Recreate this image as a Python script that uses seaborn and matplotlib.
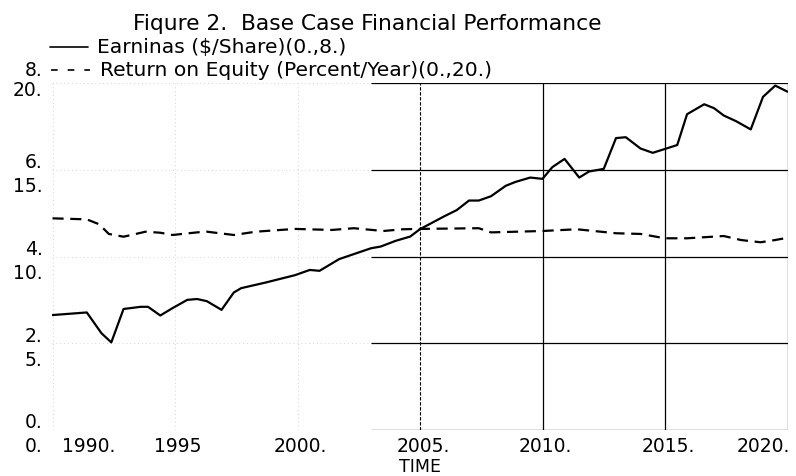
import matplotlib
matplotlib.use("Agg")
import matplotlib.pyplot as plt
import matplotlib.transforms as mtransforms
from matplotlib.lines import Line2D
import seaborn as sns

# ---------------- data ----------------
title = "Fiqure 2.  Base Case Financial Performance"
earn_label = "Earninas ($/Share)(0.,8.)"
roe_label = "Return on Equity (Percent/Year)(0.,20.)"
x_label = "TIME"

earn_time = [1990.0, 1991.4, 1992.0, 1992.4, 1992.9, 1993.6, 1993.9, 1994.4, 1994.9,
             1995.5, 1995.9, 1996.3, 1996.9, 1997.4, 1997.7, 1998.7, 1999.9, 2000.5,
             2000.9, 2001.7, 2003.0, 2003.4, 2004.0, 2004.6, 2005.0, 2006.0, 2006.5,
             2007.0, 2007.4, 2007.9, 2008.5, 2008.9, 2009.5, 2010.0, 2010.4, 2010.9,
             2011.5, 2011.9, 2012.5, 2013.0, 2013.4, 2014.0, 2014.5, 2015.0, 2015.5,
             2015.9, 2016.6, 2017.0, 2017.4, 2017.9, 2018.5, 2019.0, 2019.5, 2020.0]
earn_vals = [2.65, 2.71, 2.23, 2.02, 2.79, 2.84, 2.84, 2.64, 2.81,
             3.00, 3.02, 2.97, 2.77, 3.17, 3.27, 3.40, 3.57, 3.69,
             3.67, 3.94, 4.19, 4.23, 4.36, 4.46, 4.63, 4.93, 5.07,
             5.29, 5.29, 5.39, 5.63, 5.72, 5.82, 5.79, 6.06, 6.25,
             5.82, 5.96, 6.02, 6.73, 6.75, 6.49, 6.39, 6.48, 6.57,
             7.28, 7.51, 7.42, 7.25, 7.12, 6.93, 7.68, 7.94, 7.80]

roe_time = [1990.0, 1991.4, 1991.9, 1992.3, 1992.9, 1993.4, 1993.8, 1994.4, 1994.9,
            1995.9, 1996.3, 1997.4, 1998.3, 1999.9, 2001.4, 2002.3, 2003.5, 2004.3,
            2005.0, 2007.4, 2007.9, 2010.0, 2011.4, 2013.0, 2014.0, 2015.0, 2015.9,
            2017.4, 2018.1, 2018.9, 2019.5, 2020.0]
roe_vals = [12.20, 12.14, 11.86, 11.30, 11.14, 11.30, 11.43, 11.37, 11.24,
            11.39, 11.43, 11.24, 11.43, 11.59, 11.53, 11.63, 11.47, 11.57,
            11.59, 11.63, 11.39, 11.47, 11.57, 11.34, 11.30, 11.05, 11.05,
            11.18, 10.95, 10.82, 10.95, 11.08]

x_ticks = [1990, 1995, 2000, 2005, 2010, 2015, 2020]
x_tick_labels = ["1990.", "1995", "2000.", "2005.", "2010.", "2015.", "2020."]
earn_ticks = [0, 2, 4, 6, 8]
earn_tick_labels = ["0.", "2.", "4.", "6.", "8."]
roe_ticks = [0, 5, 10, 15, 20]
roe_tick_labels = ["0.", "5.", "10.", "15.", "20."]

# ---------------- style ----------------
sns.set_theme(style="white")
plt.rcParams["font.family"] = ["DejaVu Sans"]
FS_TICK = 13.5
FS_TITLE = 15.7
FS_LEG = 14.6
W, H = 796, 476

def fx(px):
    return px / W

def fy(py):
    return 1 - py / H

fig = plt.figure(figsize=(W / 100, H / 100), dpi=100)
fig.patch.set_facecolor("white")
ax = fig.add_axes([fx(52.5), fy(430), 735 / W, 347 / H])
ax2 = ax.twinx()

ax.set_xlim(1990, 2020)
ax.set_ylim(0, 8)
ax2.set_ylim(0, 20)
for a in (ax, ax2):
    a.set_xticks([])
    a.set_yticks([])
    for s in a.spines.values():
        s.set_visible(False)
    a.grid(False)
ax2.patch.set_visible(False)

# faded (left) part of the frame and grid
faint = dict(color="#d4d4d4", lw=0.7, ls=(0, (1, 3)))
for xt in x_ticks[:-1]:
    ax.axvline(xt, **faint)
for yt in earn_ticks:
    ax.axhline(yt, **faint)

# visible (right) part of the frame and grid
solid_start = 2003.0
for yt in earn_ticks:
    ax.hlines(yt, solid_start, 2020, color="black", lw=0.9)
ax.axvline(2005, color="black", lw=0.8, ls=(0, (3, 1.5)))
for xt in (2010, 2015, 2020):
    ax.axvline(xt, color="black", lw=0.9)

# series
sns.lineplot(x=earn_time, y=earn_vals, ax=ax, color="black", lw=1.6,
             estimator=None, sort=False)
sns.lineplot(x=roe_time, y=roe_vals, ax=ax2, color="black", lw=1.6,
             estimator=None, sort=False, linestyle=(0, (5, 3)))
ax.set_xlabel("")
ax.set_ylabel("")
ax2.set_ylabel("")

# y tick label pairs
ytrans = ax.get_yaxis_transform()
ytrans2 = ax2.get_yaxis_transform()
lab_x = -10 / 735
for v, lab in zip(earn_ticks, earn_tick_labels):
    off = -13 if v == earn_ticks[-1] else -7
    tr = mtransforms.offset_copy(ytrans, fig=fig, x=0, y=-off, units="dots")
    ax.text(lab_x, v, lab, transform=tr, ha="right", va="center", fontsize=FS_TICK,
            color="black", clip_on=False)
for v, lab in zip(roe_ticks, roe_tick_labels):
    off = 7 if v == roe_ticks[-1] else 17
    tr = mtransforms.offset_copy(ytrans2, fig=fig, x=0, y=-off, units="dots")
    ax2.text(lab_x, v, lab, transform=tr, ha="right", va="center", fontsize=FS_TICK,
             color="black", clip_on=False)

# x tick labels
xtrans = ax.get_xaxis_transform()
for i, (v, lab) in enumerate(zip(x_ticks, x_tick_labels)):
    if i == 0:
        ha, dx = "left", 10
    elif i == len(x_ticks) - 1:
        ha, dx = "right", 3
    else:
        ha, dx = "center", 3
    tr = mtransforms.offset_copy(xtrans, fig=fig, x=dx, y=-17, units="dots")
    ax.text(v, 0, lab, transform=tr, ha=ha, va="center", fontsize=FS_TICK,
            color="black", clip_on=False)

fig.text(0.5 * (fx(52.5) + fx(787.5)), fy(467), x_label, ha="center", va="center",
         fontsize=FS_TICK - 1, color="black")

# title and legend
fig.text(fx(133), fy(24), title, ha="left", va="center", fontsize=FS_TITLE,
         color="black")
fig.add_artist(Line2D([fx(50), fx(88)], [fy(47), fy(47)], color="black", lw=1.2))
fig.text(fx(97), fy(48), earn_label, ha="left", va="center", fontsize=FS_LEG,
         color="black")
fig.add_artist(Line2D([fx(51), fx(90)], [fy(70), fy(70)], color="black", lw=1.2,
                      ls=(0, (4, 6))))
fig.text(fx(100), fy(70), roe_label, ha="left", va="center", fontsize=FS_LEG,
         color="black")

fig.savefig("out.png", dpi=100, facecolor="white")
